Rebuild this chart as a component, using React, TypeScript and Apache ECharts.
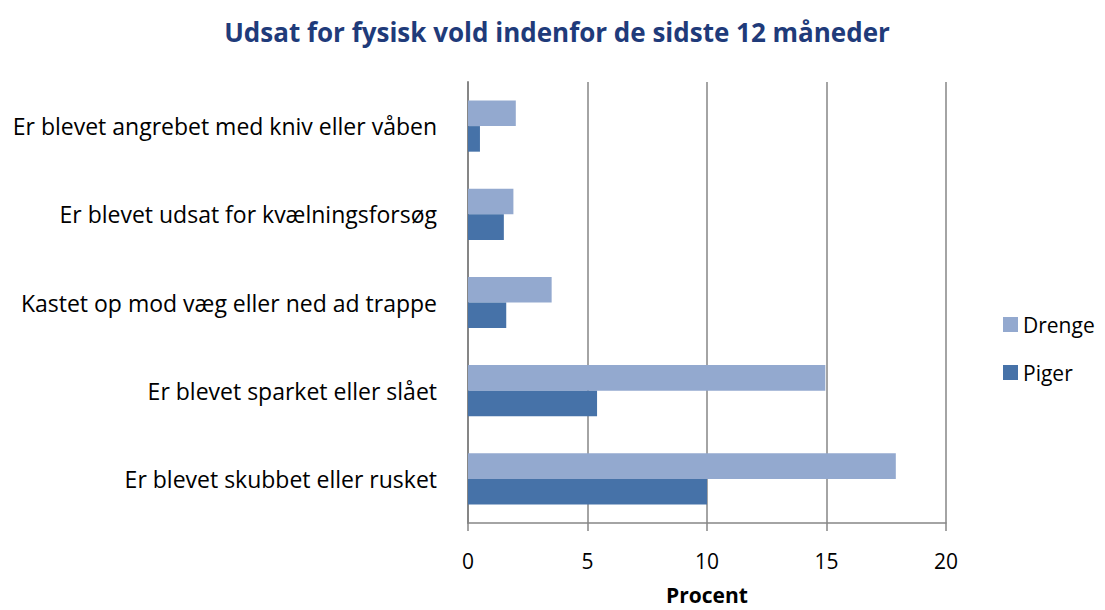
import React, { useEffect, useRef } from "react";
import * as echarts from "echarts";

const categories = [
  "Er blevet skubbet eller rusket",
  "Er blevet sparket eller slået",
  "Kastet op mod væg eller ned ad trappe",
  "Er blevet udsat for kvælningsforsøg",
  "Er blevet angrebet med kniv eller våben",
];
const drenge = [17.9, 14.95, 3.5, 1.9, 2.0];
const piger = [10.0, 5.4, 1.6, 1.5, 0.5];
const xTicks = [0, 5, 10, 15, 20];

const FONT = "Open Sans";

export default function App() {
  const ref = useRef<HTMLDivElement>(null);
  useEffect(() => {
    if (!ref.current) return;
    const chart = echarts.init(ref.current, undefined, { renderer: "svg" });
    chart.setOption({
      animation: false,
      title: {
        text: "Udsat for fysisk vold indenfor de sidste 12 måneder",
        left: 544,
        textAlign: "center",
        top: 6,
        textStyle: { fontFamily: FONT, fontSize: 26, fontWeight: "bold", color: "#1F3B7A" },
      },
      legend: {
        orient: "vertical",
        left: 990,
        top: 301,
        itemWidth: 15,
        itemHeight: 15,
        itemGap: 27,
        icon: "rect",
        data: ["Drenge", "Piger"],
        textStyle: { fontFamily: FONT, fontSize: 21, color: "#000" },
      },
      grid: {
        left: 460,
        right: 151,
        top: 74,
        bottom: 87,
        containLabel: false,
        outerBoundsMode: "none",
      },
      xAxis: {
        type: "value",
        min: xTicks[0],
        max: xTicks[xTicks.length - 1],
        interval: 5,
        name: "Procent",
        nameLocation: "middle",
        nameGap: 61,
        nameMoveOverlap: false,
        nameTextStyle: { fontFamily: FONT, fontSize: 21, fontWeight: "bold", color: "#000" },
        axisLine: { show: true, lineStyle: { color: "#868686", width: 1.5 } },
        axisTick: { show: true, length: 8, lineStyle: { color: "#868686", width: 1.5 } },
        axisLabel: { fontFamily: FONT, fontSize: 21, color: "#000", margin: 27 },
        splitLine: { show: true, lineStyle: { color: "#868686", width: 1.5 } },
      },
      yAxis: {
        type: "category",
        data: categories,
        axisLine: { show: true, lineStyle: { color: "#868686", width: 2 } },
        axisTick: { show: false },
        axisLabel: { fontFamily: FONT, fontSize: 23, color: "#000", margin: 31 },
      },
      series: [
        {
          name: "Drenge",
          type: "bar",
          data: drenge,
          itemStyle: { color: "#93A9CF" },
          barGap: "0%",
          barCategoryGap: "42%",
        },
        {
          name: "Piger",
          type: "bar",
          data: piger,
          itemStyle: { color: "#4672A8" },
          barGap: "0%",
          barCategoryGap: "42%",
        },
      ],
    });
    return () => chart.dispose();
  }, []);
  return <div ref={ref} style={{ width: 1089, height: 602 }} />;
}
